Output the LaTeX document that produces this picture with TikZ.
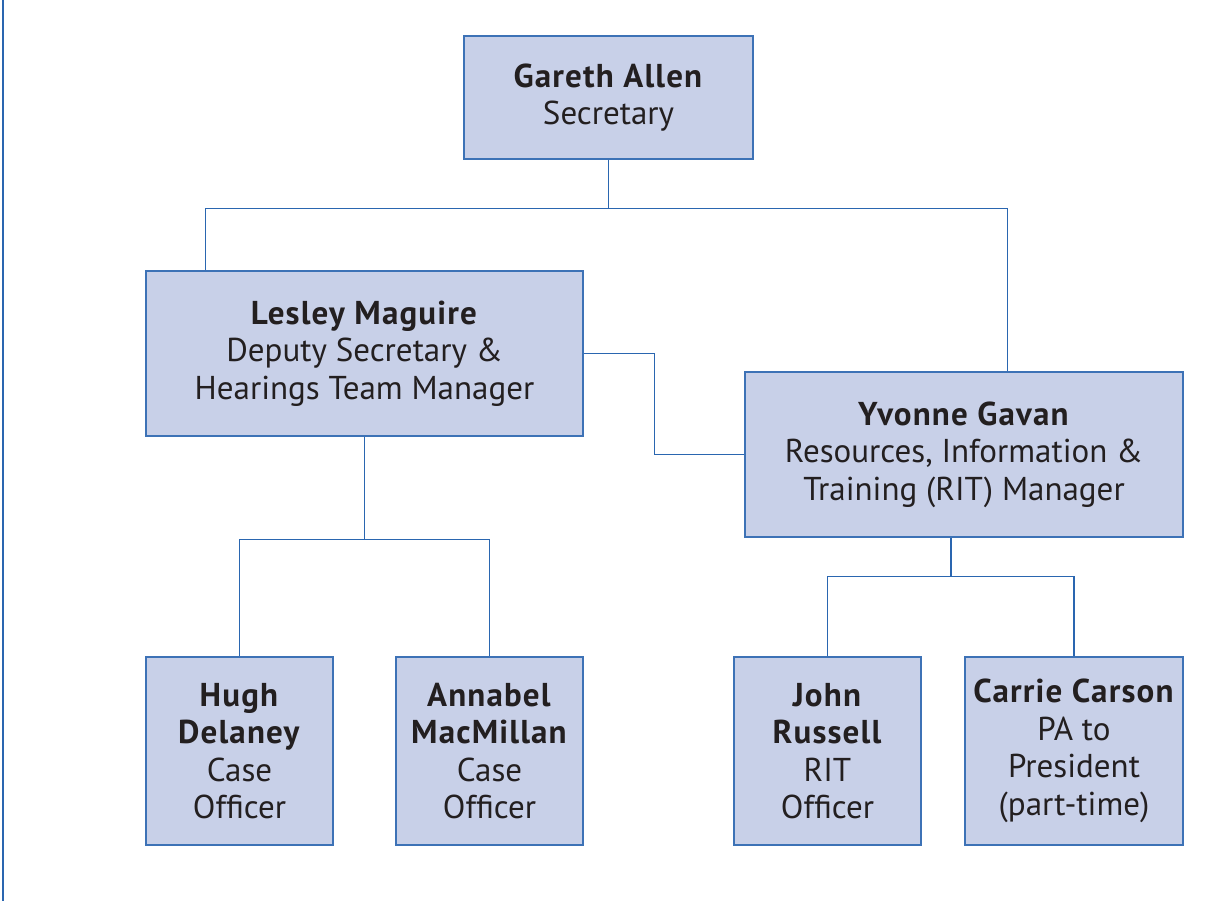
\documentclass[tikz,border=0pt]{standalone}
\usepackage{fontspec}
\setmainfont{PT Sans}[BoldFeatures={LetterSpace=3.5}]
\usepackage{xcolor}
\usetikzlibrary{calc}
\definecolor{boxfill}{HTML}{C8D0E8}
\definecolor{boxline}{HTML}{3D72B6}
\definecolor{linkblue}{HTML}{2A66B0}
\definecolor{textdark}{HTML}{231F20}
\tikzstyle{boxes} = [rectangle, draw=boxline, fill=boxfill, line width=1pt, text centered,
align=center, text=textdark, font=\fontsize{23.5}{26.7}\selectfont, inner sep=0pt]
\tikzstyle{link} = [draw=linkblue, line width=0.9pt]

\begin{document}
\begin{tikzpicture}
        \useasboundingbox (0,0) rectangle (30.25,-22.525);
        \draw[draw=linkblue, line width=1.5pt] (0.075,0) -- (0.075,-22.525);

        % Boxes first
        \node[boxes, minimum width=7.225cm, minimum height=3.075cm] at (15.2125,-2.4375) (gareth)
            {\textbf{Gareth Allen}\\Secretary};
        \node[boxes, minimum width=10.925cm, minimum height=4.125cm] at (9.1125,-8.8375) (lesley)
            {\textbf{Lesley Maguire}\\Deputy Secretary \&\\Hearings Team Manager};
        \node[boxes, minimum width=10.95cm, minimum height=4.125cm] at (24.1,-11.3625) (yvonne)
            {\textbf{Yvonne Gavan}\\Resources, Information \&\\Training (RIT) Manager};

        \node[boxes, minimum width=4.675cm, minimum height=4.7cm] at (5.9875,-18.775) (hugh)
            {\textbf{Hugh}\\\textbf{Delaney}\\Case\\Officer};
        \node[boxes, minimum width=4.675cm, minimum height=4.7cm] at (12.2375,-18.775) (annabel)
            {\textbf{Annabel}\\\textbf{MacMillan}\\Case\\Officer};
        \node[boxes, minimum width=4.675cm, minimum height=4.7cm] at (20.6875,-18.775) (john)
            {\textbf{John}\\\textbf{Russell}\\RIT\\Officer};
        \node[boxes, minimum width=5.45cm, minimum height=4.7cm] at (26.85,-18.775) (carrie)
            {\textbf{Carrie Carson}\\PA to\\President\\(part-time)};

        % Secretary to managers
        \coordinate (bus1) at ($(gareth.south)+(0,-1.225)$);
        \draw[link] (gareth.south) -- (bus1);
        \draw[link] ($(lesley.north west)+(1.5,0)$) |- (bus1) -| ($(yvonne.north east)+(-4.4,0)$);

        \draw[link] (lesley.east) -- ++(1.775,0) |- (yvonne.west);

        % Managers to officers
        \draw[link] (lesley.south) -- ++(0,-2.575) coordinate (bus2);
        \draw[link] (hugh.north) |- (bus2) -| (annabel.north);

        \draw[link] ($(yvonne.south)+(-0.325,0)$) -- ++(0,-0.975) coordinate (bus3);
        \draw[link] (john.north) |- (bus3) -| (carrie.north);
    \end{tikzpicture}
\end{document}
